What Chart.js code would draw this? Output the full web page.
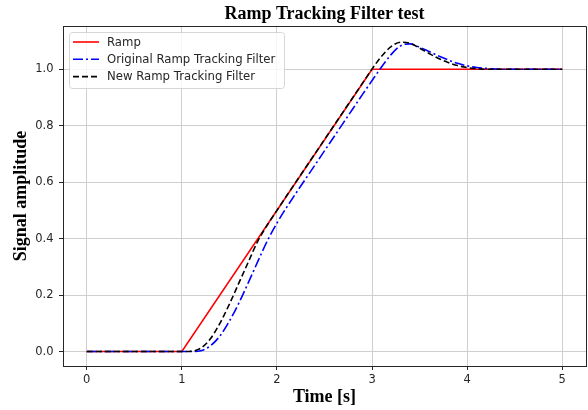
<!DOCTYPE html>
<html>
<head>
<meta charset="utf-8">
<script src="https://cdn.jsdelivr.net/npm/chart.js@4.4.1/dist/chart.umd.min.js"></script>
<style>
  html, body { margin: 0; padding: 0; background: #fff; }
  #wrap { width: 588px; height: 410px; }
</style>
</head>
<body>
<div id="wrap"><canvas id="chart" width="588" height="410"></canvas></div>
<script>
// --- Data ---
const rampTime = [0, 1, 3, 5];
const rampValues = [0, 0, 1, 1];

const filterTime = [0, 1.0, 1.1, 1.2, 1.3, 1.4, 1.5, 1.6, 1.7, 1.8, 1.9,
  2.0, 2.1, 2.2, 2.3, 2.4, 2.5, 2.6, 2.7, 2.8, 2.9,
  3.0, 3.1, 3.2, 3.3, 3.4, 3.5, 3.6, 3.7, 3.8, 3.9,
  4.0, 4.1, 4.2, 4.3, 4.4, 5.0];
const originalFilter = [0, 0, 0.000, 0.003, 0.020, 0.055, 0.108, 0.172, 0.245, 0.320, 0.393,
  0.455, 0.510, 0.561, 0.611, 0.661, 0.711, 0.761, 0.811, 0.861, 0.911,
  0.960, 1.008, 1.052, 1.083, 1.090, 1.078, 1.063, 1.047, 1.033, 1.021,
  1.012, 1.006, 1.003, 1.001, 1.000, 1.000];
const newFilter = [0, 0, 0.001, 0.012, 0.045, 0.100, 0.168, 0.243, 0.318, 0.392, 0.449,
  0.500, 0.551, 0.601, 0.651, 0.701, 0.751, 0.801, 0.851, 0.901, 0.951,
  1.001, 1.046, 1.080, 1.096, 1.092, 1.075, 1.056, 1.038, 1.024, 1.013,
  1.006, 1.002, 1.000, 1.000, 1.000, 1.000];

const xTicks = [0, 1, 2, 3, 4, 5];
const yTicks = [0.0, 0.2, 0.4, 0.6, 0.8, 1.0];

const toPoints = (xs, ys) => xs.map((x, i) => ({ x: x, y: ys[i] }));

const serif = "'Liberation Serif', 'Times New Roman', 'DejaVu Serif', serif";
const sans = "'DejaVu Sans', 'Liberation Sans', sans-serif";

// --- Box (top/right spines) and inline legend ---
const framePlugin = {
  id: 'frame',
  afterDraw(chart) {
    const { ctx, chartArea: a } = chart;
    ctx.save();
    ctx.strokeStyle = '#262626';
    ctx.lineWidth = 1;
    ctx.beginPath();
    ctx.moveTo(Math.round(a.left) + 0.5, Math.round(a.top) + 0.5);
    ctx.lineTo(Math.round(a.right) + 0.5, Math.round(a.top) + 0.5);
    ctx.lineTo(Math.round(a.right) + 0.5, Math.round(a.bottom) + 0.5);
    ctx.stroke();

    // legend box
    const bx = a.left + 6, by = a.top + 6, bw = 215, bh = 56;
    ctx.beginPath();
    ctx.roundRect(bx + 0.5, by + 0.5, bw, bh, 3);
    ctx.fillStyle = 'rgba(255,255,255,0.8)';
    ctx.fill();
    ctx.strokeStyle = '#d6d6d6';
    ctx.stroke();

    ctx.font = '11.7px ' + sans;
    ctx.textBaseline = 'middle';
    ctx.textAlign = 'left';
    chart.data.datasets.forEach((ds, i) => {
      const y = by + 10 + i * 17.3;
      ctx.beginPath();
      ctx.setLineDash(ds.borderDash || []);
      ctx.strokeStyle = ds.borderColor;
      ctx.lineWidth = ds.borderWidth;
      ctx.moveTo(bx + 4, y);
      ctx.lineTo(bx + 30, y);
      ctx.stroke();
      ctx.setLineDash([]);
      ctx.fillStyle = '#262626';
      ctx.fillText(ds.label, bx + 38, y + 0.5);
    });
    ctx.restore();
  }
};

new Chart(document.getElementById('chart'), {
  type: 'line',
  data: {
    datasets: [
      {
        label: 'Ramp',
        data: toPoints(rampTime, rampValues),
        borderColor: '#ff0000',
        borderWidth: 1.6,
        pointRadius: 0,
        tension: 0,
        order: 2
      },
      {
        label: 'Original Ramp Tracking Filter',
        data: toPoints(filterTime, originalFilter),
        borderColor: '#0000ff',
        borderWidth: 1.6,
        borderDash: [10, 3, 2, 3],
        pointRadius: 0,
        cubicInterpolationMode: 'monotone',
        order: 1
      },
      {
        label: 'New Ramp Tracking Filter',
        data: toPoints(filterTime, newFilter),
        borderColor: '#000000',
        borderWidth: 1.6,
        borderDash: [6, 3],
        pointRadius: 0,
        cubicInterpolationMode: 'monotone',
        order: 0
      }
    ]
  },
  options: {
    responsive: false,
    animation: false,
    devicePixelRatio: 1,
    layout: { padding: { left: 0, right: 2, top: 0, bottom: 0 } },
    plugins: {
      legend: { display: false },
      tooltip: { enabled: false },
      title: {
        display: true,
        fullSize: false,
        text: 'Ramp Tracking Filter test',
        color: '#000',
        font: { family: serif, size: 18, weight: 'bold', lineHeight: 1.2 },
        padding: { top: 3.6, bottom: 0.8 }
      }
    },
    scales: {
      x: {
        type: 'linear',
        min: -0.25,
        max: 5.25,
        afterBuildTicks: s => { s.ticks = xTicks.map(v => ({ value: v })); },
        afterFit: s => { s.height = 44; },
        grid: { color: '#cfcfcf', lineWidth: 1, tickLength: 4, tickColor: '#262626' },
        border: { color: '#262626', width: 1 },
        ticks: {
          color: '#262626',
          padding: 3,
          font: { family: sans, size: 11.5 },
          maxRotation: 0,
          callback: v => String(v)
        },
        title: {
          display: true,
          text: 'Time [s]',
          color: '#000',
          font: { family: serif, size: 18, weight: 'bold', lineHeight: 1.2 },
          padding: { top: 0, bottom: 2.2 }
        }
      },
      y: {
        type: 'linear',
        min: -0.0513,
        max: 1.1533,
        afterBuildTicks: s => { s.ticks = yTicks.map(v => ({ value: v })); },
        afterFit: s => { s.width = 63; },
        grid: { color: '#cfcfcf', lineWidth: 1, tickLength: 4, tickColor: '#262626' },
        border: { color: '#262626', width: 1 },
        ticks: {
          color: '#262626',
          padding: 5.5,
          font: { family: sans, size: 11.5 },
          callback: v => v.toFixed(1)
        },
        title: {
          display: true,
          text: 'Signal amplitude',
          color: '#000',
          font: { family: serif, size: 18, weight: 'bold', lineHeight: 1.2 },
          padding: { top: 11, bottom: 0 }
        }
      }
    }
  },
  plugins: [framePlugin]
});
</script>
</body>
</html>
